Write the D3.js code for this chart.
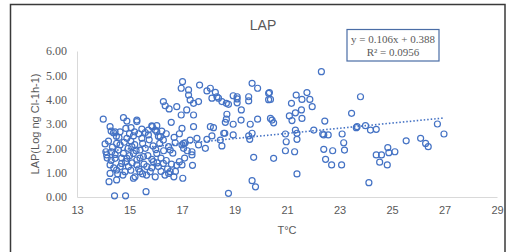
<!DOCTYPE html>
<html>
<head>
<meta charset="utf-8">
<script src="https://cdn.jsdelivr.net/npm/d3@7"></script>
<style>
  html, body { margin: 0; padding: 0; background: #fff; }
  svg { display: block; }
</style>
</head>
<body>
<svg id="chart" width="507" height="252"></svg>
<script>
// ---- DATA ----
const chartTitle = "LAP";
const xTitle = "T°C";
const yTitle = "LAP(Log ng Cl-1h-1)";
const xTicks = [13, 15, 17, 19, 21, 23, 25, 27, 29];
const yTicks = [0, 1, 2, 3, 4, 5, 6];
const trendSlope = 0.106;
const trendIntercept = 0.388;
const equationLines = ["y = 0.106x + 0.388", "R² = 0.0956"];

const tempX = [
  // left cluster upper
  14.0,14.77,14.9,15.28,14.26,14.3,14.64,14.86,15.06,15.19,15.47,15.72,15.87,16.04,15.98,16.23,16.59,14.45,15.28,16.29,16.36,16.51,16.8,16.97,17.0,17.02,16.97,
  // left cluster middle
  14.39,14.9,15.15,15.47,15.72,15.85,16.04,16.17,16.29,16.49,16.55,16.74,17.0,17.06,17.12,
  14.07,14.1,14.13,14.32,14.26,14.26,14.45,14.51,14.58,14.64,14.77,14.7,14.51,14.83,14.9,14.96,15.09,15.15,15.28,15.4,15.53,15.66,15.79,15.91,16.04,16.1,15.98,16.29,15.4,15.28,
  14.22,14.51,15.21,15.15,16.69,17.03,16.55,16.49,
  14.43,14.85,15.63,
  14.2,14.35,14.45,14.6,14.7,14.8,14.85,14.95,15.0,15.05,15.1,15.2,15.25,15.35,15.4,15.5,15.55,15.6,15.7,15.75,15.85,15.9,16.0,16.05,16.15,16.2,16.3,16.4,16.45,16.6,16.65,16.8,
  14.3,14.4,14.55,14.65,14.75,15.05,15.35,15.5,15.65,15.85,16.2,16.35,14.15,14.5,15.0,15.6,16.1,16.4,16.7,16.9,17.2,17.1,16.9,16.75,17.4,
  // middle
  17.25,17.25,17.31,17.44,17.63,17.67,17.95,18.08,18.14,18.27,18.33,18.39,18.52,18.69,18.77,18.95,19.1,19.1,19.1,19.26,19.54,19.54,19.67,19.88,20.3,20.3,
  17.18,17.44,18.71,18.69,18.65,19.25,18.95,19.6,19.88,20.37,18.08,18.2,18.63,19.67,17.44,
  17.06,17.31,17.57,17.63,17.89,17.95,18.14,18.46,18.52,18.59,18.95,19.54,19.58,17.38,17.38,18.77,19.73,19.67,19.8,17.0,
  // right
  22.31,20.33,20.37,21.35,21.76,21.57,21.87,21.17,21.96,21.55,21.32,21.09,21.19,21.57,20.43,20.49,22.44,23.46,23.8,
  21.32,20.94,22.02,22.36,23.1,23.64,22.57,21.38,20.97,21.38,22.4,23.16,23.19,20.94,21.29,22.4,22.74,20.49,22.47,22.7,23.08,21.38,
  23.67,23.99,24.18,24.4,26.73,26.98,25.54,26.09,26.28,26.38,24.4,24.6,24.84,24.88,25.11,24.53,24.82,24.12
];
const lapY = [
  3.2,3.26,3.12,3.16,2.89,2.71,2.68,2.82,2.85,2.68,2.79,2.75,2.89,2.93,2.75,2.71,3.07,2.68,3.1,3.92,3.75,3.62,3.71,3.37,2.82,4.74,4.47,
  2.64,2.41,2.51,2.41,2.55,2.92,2.68,2.48,2.34,2.07,1.93,2.23,2.14,2.0,2.23,
  2.18,1.86,1.73,1.86,1.32,0.97,1.59,2.2,1.93,2.14,1.79,1.38,1.11,1.04,1.59,1.25,2.07,1.79,1.52,1.93,1.66,1.25,1.04,1.45,1.79,1.25,0.83,1.38,1.04,1.32,
  0.63,0.7,0.83,0.77,0.83,0.77,1.04,0.97,
  0.05,0.05,0.22,
  2.3,2.05,1.75,2.45,1.6,2.25,1.45,2.0,1.7,2.3,1.4,2.15,1.9,2.6,1.6,2.2,1.35,2.0,1.7,2.35,1.55,2.1,1.95,1.4,2.2,1.6,1.9,1.5,1.15,1.35,1.8,1.3,
  1.5,1.2,0.95,1.25,0.9,1.1,1.15,0.95,0.9,1.2,1.05,0.9,1.6,2.5,2.6,2.65,2.5,2.6,2.45,2.6,1.9,1.6,1.45,1.05,1.3,
  4.4,4.19,3.99,3.85,3.92,4.6,4.36,4.47,4.06,4.3,4.12,4.06,3.92,3.85,3.81,4.16,4.12,4.03,3.87,3.58,4.12,3.95,4.67,4.47,4.26,4.0,
  3.58,3.37,3.4,3.2,3.07,3.16,2.99,2.99,3.2,3.23,2.89,2.85,2.62,2.62,2.89,
  2.2,2.34,2.41,2.14,2.0,2.37,2.51,2.34,2.1,2.62,2.55,2.51,2.37,1.86,1.73,0.15,1.63,0.67,0.42,1.32,
  5.15,4.29,4.01,4.19,4.29,4.01,4.01,3.85,3.71,3.58,3.46,3.33,3.14,3.23,3.16,3.05,3.12,3.44,4.12,
  2.75,2.59,2.75,2.59,2.59,2.85,2.55,2.62,2.27,2.37,2.55,2.23,1.93,1.9,1.86,1.96,1.9,1.59,1.55,1.32,1.32,0.95,
  2.89,2.93,2.75,2.78,3.0,2.59,2.31,2.41,2.2,2.07,1.73,1.73,2.03,1.82,1.86,1.43,1.32,0.59
];

// ---- CHART ----
const svg = d3.select("#chart");
const plotLeft = 77, plotRight = 497, plotTop = 51, plotBottom = 197;
const x = d3.scaleLinear().domain([13, 29]).range([plotLeft, plotRight]);
const y = d3.scaleLinear().domain([0, 6]).range([plotBottom, plotTop]);
const blue = "#4472C4", grey = "#595959";

// outer frame
svg.append("rect").attr("x", 10.5).attr("y", 4.5).attr("width", 494.5).attr("height", 260)
  .attr("fill", "none").attr("stroke", "#3a3a3a").attr("stroke-width", 1.5);

// title
svg.append("text").attr("x", 263).attr("y", 30).attr("text-anchor", "middle")
  .attr("font-family", "Liberation Sans, Arial, sans-serif").attr("font-size", 14)
  .attr("fill", grey).text(chartTitle);

// axes
const xAxis = d3.axisBottom(x).tickValues(xTicks).tickSize(0).tickPadding(9).tickFormat(d3.format("d"));
const gx = svg.append("g").attr("transform", `translate(0,${plotBottom})`).call(xAxis);
gx.select(".domain").attr("stroke", "#d9d9d9").attr("stroke-width", 1);
gx.selectAll("text").attr("font-family", "Liberation Sans, Arial, sans-serif").attr("font-size", 11).attr("fill", grey);

const yAxis = d3.axisLeft(y).tickValues(yTicks).tickSize(0).tickPadding(10).tickFormat(d3.format(".2f"));
const gy = svg.append("g").attr("transform", `translate(${plotLeft},0)`).call(yAxis);
gy.select(".domain").attr("stroke", "#d9d9d9").attr("stroke-width", 1);
gy.selectAll("text").attr("font-family", "Liberation Serif, Times New Roman, serif").attr("font-size", 12).attr("fill", grey);

// axis titles
svg.append("text").attr("x", 287).attr("y", 234).attr("text-anchor", "middle")
  .attr("font-family", "Liberation Sans, Arial, sans-serif").attr("font-size", 11)
  .attr("fill", grey).text(xTitle);
svg.append("text").attr("transform", "translate(39,124) rotate(-90)").attr("text-anchor", "middle")
  .attr("font-family", "Liberation Sans, Arial, sans-serif").attr("font-size", 11)
  .attr("fill", grey).text(yTitle);

// points
const pts = tempX.map((t, i) => ({ t, v: lapY[i] }));
svg.append("g").selectAll("circle").data(pts).join("circle")
  .attr("cx", d => x(d.t)).attr("cy", d => y(d.v)).attr("r", 3)
  .attr("fill", "none").attr("stroke", blue).attr("stroke-width", 1.2);

// trendline
const xMin = d3.min(tempX), xMax = d3.max(tempX);
svg.append("line")
  .attr("x1", x(xMin)).attr("y1", y(trendSlope * xMin + trendIntercept))
  .attr("x2", x(xMax)).attr("y2", y(trendSlope * xMax + trendIntercept))
  .attr("stroke", blue).attr("stroke-width", 1.6).attr("stroke-dasharray", "1.5,2");

// equation box
svg.append("rect").attr("x", 347).attr("y", 29.5).attr("width", 92).attr("height", 31.5)
  .attr("fill", "#fff").attr("stroke", "#4a6da6").attr("stroke-width", 1.2);
svg.append("g").selectAll("text").data(equationLines).join("text")
  .attr("x", 393).attr("y", (d, i) => 42.5 + i * 13).attr("text-anchor", "middle")
  .attr("font-family", "Liberation Serif, Times New Roman, serif").attr("font-size", 11)
  .attr("fill", grey).text(d => d);
</script>
</body>
</html>
